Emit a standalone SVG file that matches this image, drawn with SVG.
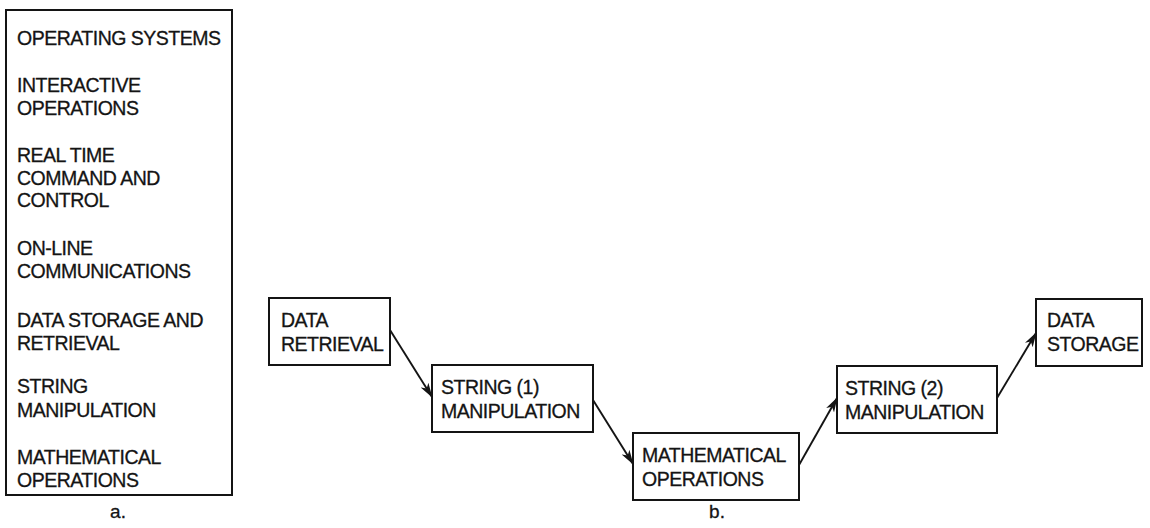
<svg xmlns="http://www.w3.org/2000/svg" width="1150" height="528" viewBox="0 0 1150 528">
  <defs>
    <style>
      .box { fill: #ffffff; stroke: #141414; stroke-width: 2; }
      .lbl { font-family: "Liberation Sans", Arial, sans-serif; font-size: 19.5px; letter-spacing: -0.5px; fill: #141414; stroke: #141414; stroke-width: 0.3; }
      .cap { font-family: "Liberation Sans", Arial, sans-serif; font-size: 19px; fill: #141414; stroke: #141414; stroke-width: 0.3; text-anchor: middle; }
      .edge { stroke: #141414; stroke-width: 1.9; fill: none; marker-end: url(#head); }
    </style>
    <marker id="head" viewBox="0 0 15 10" refX="14" refY="5" markerWidth="15" markerHeight="10" markerUnits="userSpaceOnUse" orient="auto">
      <path d="M0,0.5 L15,5 L0,9.5 L4,5 Z" fill="#141414"/>
    </marker>
  </defs>

  <rect width="1150" height="528" fill="#ffffff"/>

  <!-- a. list of application areas -->
  <g id="list-a">
    <rect class="box" x="6" y="10" width="226" height="485"/>
    <text class="lbl" x="17" y="45">OPERATING SYSTEMS</text>
    <text class="lbl" x="17" y="92">INTERACTIVE</text>
    <text class="lbl" x="17" y="115">OPERATIONS</text>
    <text class="lbl" x="17" y="162">REAL TIME</text>
    <text class="lbl" x="17" y="185">COMMAND AND</text>
    <text class="lbl" x="17" y="207">CONTROL</text>
    <text class="lbl" x="17" y="255">ON-LINE</text>
    <text class="lbl" x="17" y="278">COMMUNICATIONS</text>
    <text class="lbl" x="17" y="327">DATA STORAGE AND</text>
    <text class="lbl" x="17" y="350">RETRIEVAL</text>
    <text class="lbl" x="17" y="393">STRING</text>
    <text class="lbl" x="17" y="417">MANIPULATION</text>
    <text class="lbl" x="17" y="464">MATHEMATICAL</text>
    <text class="lbl" x="17" y="487">OPERATIONS</text>
  </g>
  <text class="cap" x="118" y="518">a.</text>

  <!-- b. processing chain -->
  <g id="data-retrieval">
    <rect class="box" x="269" y="298" width="121" height="67"/>
    <text class="lbl" x="281" y="327">DATA</text>
    <text class="lbl" x="281" y="351">RETRIEVAL</text>
  </g>
  <g id="string-1">
    <rect class="box" x="432" y="365" width="161" height="67"/>
    <text class="lbl" x="441" y="394">STRING (1)</text>
    <text class="lbl" x="441" y="418">MANIPULATION</text>
  </g>
  <g id="math-ops">
    <rect class="box" x="633" y="433" width="166" height="67"/>
    <text class="lbl" x="642" y="462">MATHEMATICAL</text>
    <text class="lbl" x="642" y="486">OPERATIONS</text>
  </g>
  <g id="string-2">
    <rect class="box" x="837" y="366" width="160" height="67"/>
    <text class="lbl" x="845" y="395">STRING (2)</text>
    <text class="lbl" x="845" y="419">MANIPULATION</text>
  </g>
  <g id="data-storage">
    <rect class="box" x="1036" y="299" width="106" height="67"/>
    <text class="lbl" x="1047" y="327">DATA</text>
    <text class="lbl" x="1047" y="351">STORAGE</text>
  </g>

  <g id="connectors">
    <line class="edge" x1="390" y1="330" x2="432" y2="397"/>
    <line class="edge" x1="593" y1="400" x2="633" y2="464"/>
    <line class="edge" x1="799" y1="465" x2="837" y2="398"/>
    <line class="edge" x1="997" y1="398" x2="1036" y2="333"/>
  </g>
  <text class="cap" x="717" y="518">b.</text>
</svg>
